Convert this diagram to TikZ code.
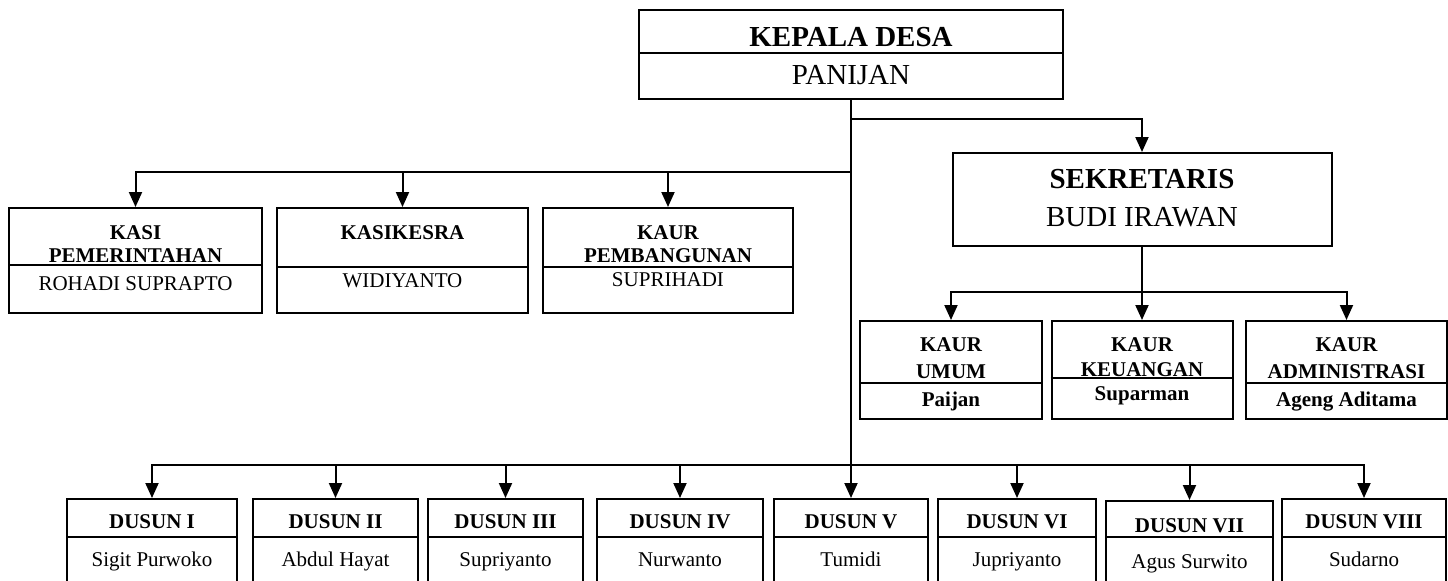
\documentclass[tikz,border=0pt]{standalone}
\usepackage{fontspec}
\setmainfont{Liberation Serif}
\usetikzlibrary{arrows.meta}

\begin{document}
\begin{tikzpicture}[x=0.5pt,y=-0.5pt,
    kotak/.style={draw,line width=1pt,inner sep=0pt},
    judul/.style={inner sep=0pt,text height=0.66em,text depth=0pt,font=\bfseries\fontsize{10.5}{12}\selectfont},
    nama/.style={inner sep=0pt,text height=0.66em,text depth=0pt,font=\fontsize{10.5}{12}\selectfont},
    judulbesar/.style={judul,font=\bfseries\fontsize{14.5}{17}\selectfont},
    namabesar/.style={nama,font=\fontsize{14.5}{17}\selectfont},
    garis/.style={line width=1pt},
    turun/.style={line width=1pt,-{Triangle[length=7.5pt,width=6.5pt]}}]
  \useasboundingbox (0,0) rectangle (1448,580);

  % kepala desa
  \node[kotak,minimum width=212pt,minimum height=44.5pt] (kades) at (851,54.5) {};
  \draw[garis] (kades.west |- 0,53) -- (kades.east |- 0,53);
  \node[judulbesar] (kadesjab) at (851,40) {KEPALA DESA};
  \node[namabesar] (kadesnama) at (851,78) {PANIJAN};

  % sekretaris
  \node[kotak,minimum width=189.5pt,minimum height=46.5pt] (sekdes) at (1142,199.5) {};
  \node[judulbesar] (sekdesjab) at (1142,182) {SEKRETARIS};
  \node[namabesar] (sekdesnama) at (1142,219.5) {BUDI IRAWAN};

  % kasi / kaur kiri
  \node[kotak,minimum width=126.5pt,minimum height=52.5pt] (kasi1) at (135.5,260.5) {};
  \draw[garis] (kasi1.west |- 0,265) -- (kasi1.east |- 0,265);
  \node[judul] (kasi1a) at (135.5,232.5) {KASI};
  \node[judul] (kasi1b) at (135.5,255.5) {PEMERINTAHAN};
  \node[nama] (kasi1c) at (135.5,283.5) {ROHADI SUPRAPTO};

  \node[kotak,minimum width=125.5pt,minimum height=52.5pt] (kasi2) at (402.5,260.5) {};
  \draw[garis] (kasi2.west |- 0,267) -- (kasi2.east |- 0,267);
  \node[judul] (kasi2a) at (402.5,233) {KASIKESRA};
  \node[nama] (kasi2c) at (402.5,280.5) {WIDIYANTO};

  \node[kotak,minimum width=125pt,minimum height=52.5pt] (kasi3) at (668,260.5) {};
  \draw[garis] (kasi3.west |- 0,267) -- (kasi3.east |- 0,267);
  \node[judul] (kasi3a) at (668,232.5) {KAUR};
  \node[judul] (kasi3b) at (668,255.5) {PEMBANGUNAN};
  \node[nama] (kasi3c) at (668,280) {SUPRIHADI};

  % kaur di bawah sekretaris
  \node[kotak,minimum width=91pt,minimum height=49pt] (kaur1) at (951,370) {};
  \draw[garis] (kaur1.west |- 0,383) -- (kaur1.east |- 0,383);
  \node[judul] (kaur1a) at (951,345) {KAUR};
  \node[judul] (kaur1b) at (951,372) {UMUM};
  \node[judul] (kaur1c) at (951,400) {Paijan};

  \node[kotak,minimum width=90.5pt,minimum height=49pt] (kaur2) at (1142,370) {};
  \draw[garis] (kaur2.west |- 0,378) -- (kaur2.east |- 0,378);
  \node[judul] (kaur2a) at (1142,345) {KAUR};
  \node[judul] (kaur2b) at (1142,369.5) {KEUANGAN};
  \node[judul] (kaur2c) at (1142,394) {Suparman};

  \node[kotak,minimum width=100.5pt,minimum height=49pt] (kaur3) at (1346.5,370) {};
  \draw[garis] (kaur3.west |- 0,383) -- (kaur3.east |- 0,383);
  \node[judul] (kaur3a) at (1346.5,344.5) {KAUR};
  \node[judul] (kaur3b) at (1346.5,372) {ADMINISTRASI};
  \node[judul] (kaur3c) at (1346.5,399.5) {Ageng Aditama};

  % dusun
  \node[kotak,minimum width=85pt,minimum height=42.5pt] (dusun1) at (152,541.5) {};
  \draw[garis] (dusun1.west |- 0,537) -- (dusun1.east |- 0,537);
  \node[judul] (dusun1a) at (152,522) {DUSUN I};
  \node[nama] (dusun1b) at (152,559.5) {Sigit Purwoko};

  \node[kotak,minimum width=82.5pt,minimum height=42.5pt] (dusun2) at (335.5,541.5) {};
  \draw[garis] (dusun2.west |- 0,537) -- (dusun2.east |- 0,537);
  \node[judul] (dusun2a) at (335.5,522) {DUSUN II};
  \node[nama] (dusun2b) at (335.5,559.5) {Abdul Hayat};

  \node[kotak,minimum width=77.5pt,minimum height=42.5pt] (dusun3) at (505.5,541.5) {};
  \draw[garis] (dusun3.west |- 0,537) -- (dusun3.east |- 0,537);
  \node[judul] (dusun3a) at (505.5,522) {DUSUN III};
  \node[nama] (dusun3b) at (505.5,559.5) {Supriyanto};

  \node[kotak,minimum width=83pt,minimum height=42.5pt] (dusun4) at (680,541.5) {};
  \draw[garis] (dusun4.west |- 0,537) -- (dusun4.east |- 0,537);
  \node[judul] (dusun4a) at (680,522) {DUSUN IV};
  \node[nama] (dusun4b) at (680,559.5) {Nurwanto};

  \node[kotak,minimum width=77pt,minimum height=42.5pt] (dusun5) at (851,541.5) {};
  \draw[garis] (dusun5.west |- 0,537) -- (dusun5.east |- 0,537);
  \node[judul] (dusun5a) at (851,522) {DUSUN V};
  \node[nama] (dusun5b) at (851,559.5) {Tumidi};

  \node[kotak,minimum width=79pt,minimum height=42.5pt] (dusun6) at (1017,541.5) {};
  \draw[garis] (dusun6.west |- 0,537) -- (dusun6.east |- 0,537);
  \node[judul] (dusun6a) at (1017,522) {DUSUN VI};
  \node[nama] (dusun6b) at (1017,559.5) {Jupriyanto};

  \node[kotak,minimum width=83.5pt,minimum height=41.5pt] (dusun7) at (1189.5,542.5) {};
  \draw[garis] (dusun7.west |- 0,537) -- (dusun7.east |- 0,537);
  \node[judul] (dusun7a) at (1189.5,525.5) {DUSUN VII};
  \node[nama] (dusun7b) at (1189.5,561.5) {Agus Surwito};

  \node[kotak,minimum width=82pt,minimum height=42.5pt] (dusun8) at (1364,541.5) {};
  \draw[garis] (dusun8.west |- 0,537) -- (dusun8.east |- 0,537);
  \node[judul] (dusun8a) at (1364,522) {DUSUN VIII};
  \node[nama] (dusun8b) at (1364,559.5) {Sudarno};

  % garis komando
  \coordinate (cabangkanan) at (851,119);
  \coordinate (cabangkiri) at (851,172);
  \coordinate (cabangsek) at (1142,292);
  \coordinate (cabangdusun) at (851,465);
  \draw[turun] (kades.south) -- (dusun5.north);
  \draw[turun] (cabangkanan) -| (sekdes.north);
  \draw[turun] (cabangkiri) -| (kasi1.north);
  \draw[turun] (cabangkiri) -| (kasi2.north);
  \draw[turun] (cabangkiri) -| (kasi3.north);
  \draw[garis] (sekdes.south) -- (cabangsek);
  \draw[turun] (cabangsek) -| (kaur1.north);
  \draw[turun] (cabangsek) -- (kaur2.north);
  \draw[turun] (cabangsek) -| (kaur3.north);
  \draw[turun] (cabangdusun) -| (dusun1.north);
  \draw[turun] (cabangdusun) -| (dusun2.north);
  \draw[turun] (cabangdusun) -| (dusun3.north);
  \draw[turun] (cabangdusun) -| (dusun4.north);
  \draw[turun] (cabangdusun) -| (dusun6.north);
  \draw[turun] (cabangdusun) -| (dusun7.north);
  \draw[turun] (cabangdusun) -| (dusun8.north);
\end{tikzpicture}
\end{document}
